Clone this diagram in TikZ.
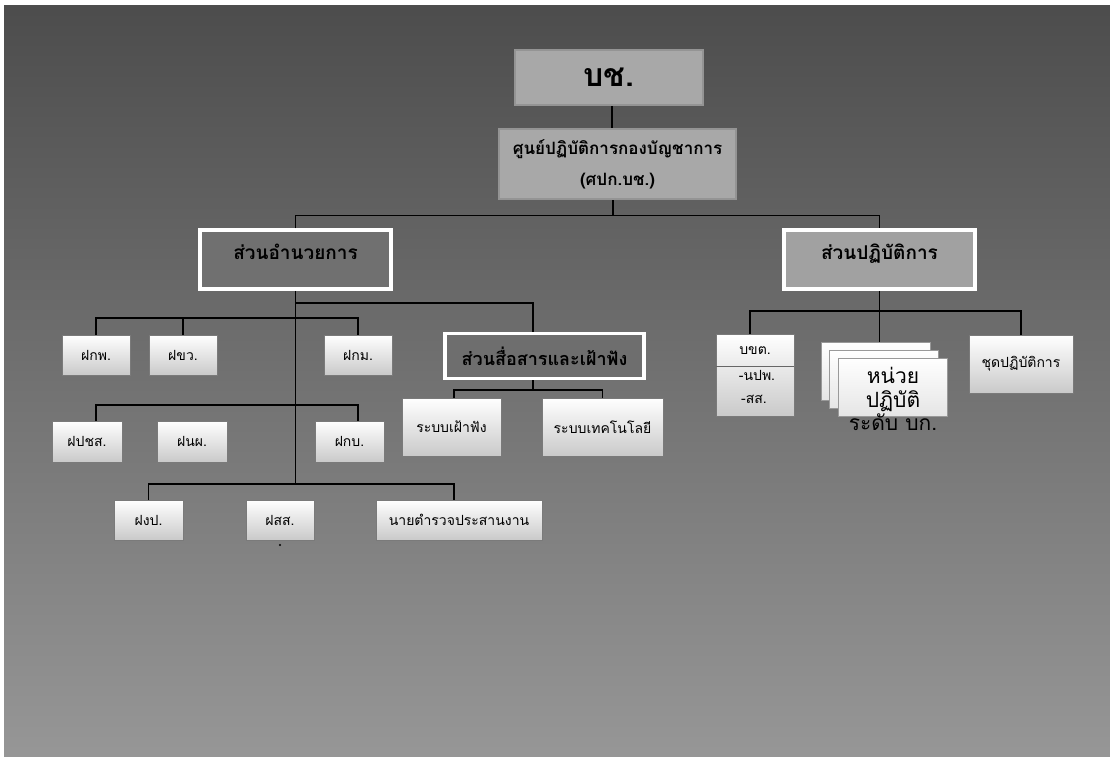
\documentclass[tikz,border=0pt]{standalone}
\usepackage{fontspec}
\newfontfamily\thaifont[Script=Thai]{Loma}
\tikzset{
    topbox/.style={rectangle,draw=black!42,line width=2.5pt,fill=black!34,
        font=\thaifont\bfseries,inner sep=0pt},
    unitbox/.style={rectangle,draw=white,line width=3.5pt,
        font=\thaifont\bfseries\fontsize{19}{22}\selectfont,inner sep=0pt},
    smallbox/.style={rectangle,draw=black!52,line width=0.8pt,top color=white,
        bottom color=black!21,font=\thaifont\fontsize{14}{17}\selectfont,inner sep=0pt},
    cardbox/.style={rectangle,draw=black!40,line width=0.8pt,top color=white,
        bottom color=black!10,inner sep=0pt,minimum width=109pt,minimum height=58pt},
    conn/.style={draw=black,line width=1.3pt}
}
\begin{document}
\begin{tikzpicture}[x=1pt,y=-1pt]

            %\draw [help lines] (0,0) grid (1110,756);
            \useasboundingbox (0,0) rectangle (1110,756);
            \fill[white] (0,0) rectangle (1110,756);
            \shade[top color=black!70,bottom color=black!41] (4,5) rectangle (1110,756);

            \path   (609,77.5)  node (bc)  [topbox,minimum width=188pt,minimum height=55pt]
                                    {\fontsize{32}{36}\selectfont บช.}
                    (617.5,164) node (spk) [topbox,minimum width=237pt,minimum height=70pt,
                                    align=center,font=\thaifont\bfseries\fontsize{17}{31}\selectfont]
                                    {ศูนย์ปฏิบัติการกองบัญชาการ\\(ศปก.บช.)}
                    (295.5,259.5) node (amn) [unitbox,fill=black!56,minimum width=191pt,minimum height=59pt,
                                    text depth=16pt] {ส่วนอำนวยการ}
                    (879.5,259.5) node (pt) [unitbox,fill=black!37,minimum width=191pt,minimum height=59pt,
                                    text depth=16pt] {ส่วนปฏิบัติการ}
                    (544.5,356) node (ssf) [unitbox,fill=black!57,minimum width=199pt,minimum height=45pt,
                                    font=\thaifont\bfseries\fontsize{18}{21}\selectfont]
                                    {ส่วนสื่อสารและเฝ้าฟัง};

            \path   (96,355)    node (fkp)  [smallbox,minimum width=68pt,minimum height=40pt] {ฝกพ.}
                    (183,355)   node (fkw)  [smallbox,minimum width=68pt,minimum height=40pt] {ฝขว.}
                    (358,355)   node (fkm)  [smallbox,minimum width=68pt,minimum height=40pt] {ฝกม.}
                    (87,441.5)  node (fpcs) [smallbox,minimum width=70pt,minimum height=41pt] {ฝปชส.}
                    (192,441.5) node (fnp)  [smallbox,minimum width=70pt,minimum height=41pt] {ฝนผ.}
                    (349.5,441.5) node (fkb) [smallbox,minimum width=69pt,minimum height=41pt] {ฝกบ.}
                    (148.5,520) node (fgp)  [smallbox,minimum width=69pt,minimum height=40pt] {ฝงป.}
                    (280,520)   node (fss)  [smallbox,minimum width=68pt,minimum height=40pt] {ฝสส.}
                    (459,520)   node (nai)  [smallbox,minimum width=166pt,minimum height=40pt] {นายตำรวจประสานงาน}
                    (451.5,427) node (rfp)  [smallbox,minimum width=99pt,minimum height=58pt] {ระบบเฝ้าฟัง}
                    (602.5,427) node (rtk)  [smallbox,minimum width=121pt,minimum height=58pt] {ระบบเทคโนโลยี}
                    (755,375)   node (bkt)  [smallbox,minimum width=78pt,minimum height=82pt] {}
                    (1021,364)  node (cpt)  [smallbox,minimum width=104pt,minimum height=58pt] {ชุดปฏิบัติการ};

            \path   (876,371.5) node (c1) [cardbox] {}
                    (883.5,379) node (c2) [cardbox] {}
                    (893,387)   node (c3) [cardbox] {}
                    (893,399)   node (unit) [font=\thaifont\fontsize{21}{23.5}\selectfont,align=center]
                                    {หน่วย\\ปฏิบัติ\\ระดับ บก.};

            \path   (755,351) node (b1) [font=\thaifont\fontsize{14}{17}\selectfont] {บขต.}
                    (757,375) node (b2) [font=\thaifont\fontsize{14}{17}\selectfont] {-นปพ.}
                    (754,399) node (b3) [font=\thaifont\fontsize{14}{17}\selectfont] {-สส.};
            \draw[black!60,line width=1pt] (bkt.west |- 0,366) -- (bkt.east |- 0,366);
            \fill (280,545) circle (1.2pt);

            \coordinate (r0) at (0,215.5);
            \coordinate (r1) at (0,318);
            \coordinate (r2) at (0,405);
            \coordinate (r3) at (0,484);
            \coordinate (r4) at (0,311);
            \coordinate (r5) at (0,390);
            \coordinate (bct)   at ([xshift=3pt]bc.south);
            \coordinate (spkb)  at ([xshift=-4.5pt]spk.south);
            \coordinate (ssft)  at ([xshift=-11.5pt]ssf.north);
            \coordinate (ssfb)  at ([xshift=-11.5pt]ssf.south);
            \coordinate (fpcst) at ([xshift=9pt]fpcs.north);
            \coordinate (fkbt)  at ([xshift=8.5pt]fkb.north);
            \coordinate (nait)  at ([xshift=-5pt]nai.north);
            \coordinate (rfpt)  at ([xshift=2.5pt]rfp.north);
            \coordinate (bktt)  at ([xshift=-5pt]bkt.north);

            \draw[conn] (bct) -- (bct |- spk.north);
            \draw[conn] (spkb) -- (spkb |- r0);
            \draw[conn] (amn.north) |- (r0 -| pt.north) -- (pt.north);
            \draw[conn] (amn.south) -- (amn.south |- r3);
            \draw[conn,line width=2.2pt] (amn.south |- 0,303) -| (ssft);
            \draw[conn] (fkp.north) |- (r1 -| fkm.north) -- (fkm.north);
            \draw[conn] (fkw.north) -- (fkw.north |- r1);
            \draw[conn] (fpcst) |- (r2 -| fkbt) -- (fkbt);
            \draw[conn] (fgp.north) |- (r3 -| nait) -- (nait);
            \draw[conn] (ssfb) -- (ssfb |- r5);
            \draw[conn] (rfpt) |- (r5 -| rtk.north) -- (rtk.north);
            \draw[conn] (pt.south) -- (pt.south |- c1.north);
            \draw[conn] (bktt) |- (r4 -| cpt.north) -- (cpt.north);
        \end{tikzpicture}
\end{document}
